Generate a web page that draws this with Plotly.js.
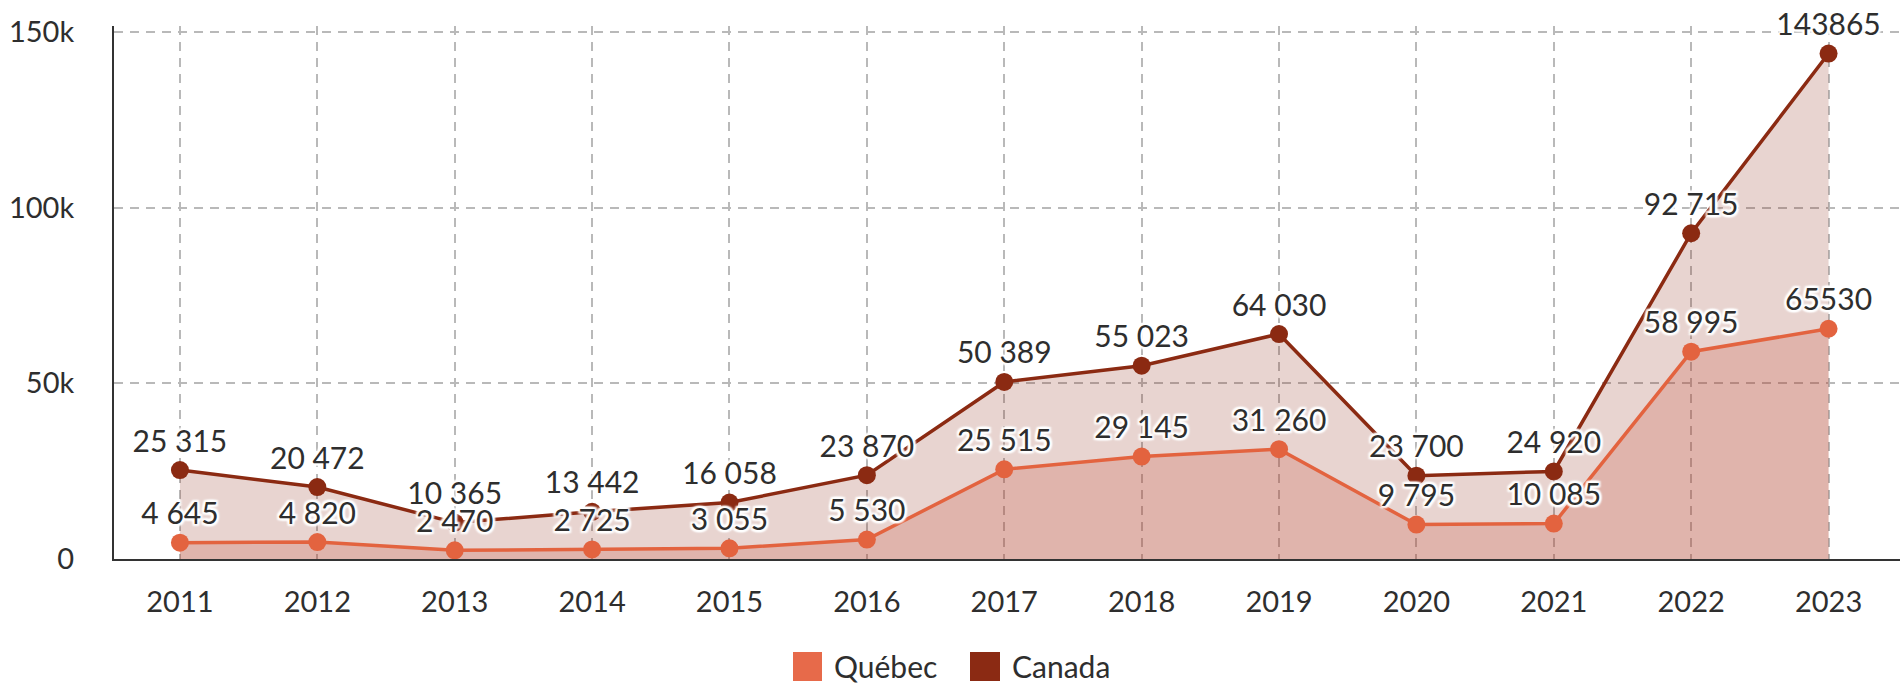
<!DOCTYPE html>
<html>
<head>
<meta charset="utf-8">
<script src="https://cdn.plot.ly/plotly-3.0.1.min.js"></script>
<style>
html,body{margin:0;padding:0;background:#fff;}
#chart{width:1903px;height:684px;}
</style>
</head>
<body>
<div id="chart"></div>
<script>
// ---- data ----
const years = ["2011","2012","2013","2014","2015","2016","2017","2018","2019","2020","2021","2022","2023"];
const quebec = [4645, 4820, 2470, 2725, 3055, 5530, 25515, 29145, 31260, 9795, 10085, 58995, 65530];
const canada = [25315, 20472, 10365, 13442, 16058, 23870, 50389, 55023, 64030, 23700, 24920, 92715, 143865];
const quebecLabels = ["4 645","4 820","2 470","2 725","3 055","5 530","25 515","29 145","31 260","9 795","10 085","58 995","65530"];
const canadaLabels = ["25 315","20 472","10 365","13 442","16 058","23 870","50 389","55 023","64 030","23 700","24 920","92 715","143865"];
const seriesNames = ["Québec", "Canada"];
const yTickVals = [0, 50000, 100000, 150000];
const yTickText = ["0", "50k", "100k", "150k"];

// ---- styles ----
const QC = "#E3633F";
const CA = "#8B2A12";
const FONT = "Lato, 'Open Sans', sans-serif";
const TXT = "#2e2e2e";
const halo = "2px 2px 2px #fff, -2px -2px 2px #fff, 2px -2px 2px #fff, -2px 2px 2px #fff, 0px 2px 2px #fff, 0px -2px 2px #fff, 2px 0px 2px #fff, -2px 0px 2px #fff";

const traces = [
  {
    x: years, y: canada, name: seriesNames[1], type: "scatter", mode: "lines+markers",
    line: {color: CA, width: 3.5}, marker: {color: CA, size: 18},
    fill: "tozeroy", fillcolor: "rgba(139,42,18,0.2)", hoverinfo: "skip", showlegend: false
  },
  {
    x: years, y: quebec, name: seriesNames[0], type: "scatter", mode: "lines+markers",
    line: {color: QC, width: 3.5}, marker: {color: QC, size: 18},
    fill: "tozeroy", fillcolor: "rgba(200,80,60,0.24)", hoverinfo: "skip", showlegend: false
  },
  {
    x: years, y: quebec, text: quebecLabels, type: "scatter", mode: "markers+text",
    marker: {size: 16, opacity: 0}, textposition: "top center",
    textfont: {family: FONT, size: 30, color: TXT, shadow: halo},
    hoverinfo: "skip", showlegend: false, cliponaxis: false
  },
  {
    x: years, y: canada, text: canadaLabels, type: "scatter", mode: "markers+text",
    marker: {size: 16, opacity: 0}, textposition: "top center",
    textfont: {family: FONT, size: 30, color: TXT, shadow: halo},
    hoverinfo: "skip", showlegend: false, cliponaxis: false
  }
];

// legend (drawn with shapes + annotations, paper coords)
const W = 1786, H = 533, L = 114, B = 559;
const px = v => (v - L) / W;
const py = v => (B - v) / H;

const layout = {
  width: 1903, height: 684,
  margin: {l: L, r: 3, t: 26, b: 125, pad: 0},
  paper_bgcolor: "#fff", plot_bgcolor: "#fff",
  font: {family: FONT, size: 30, color: TXT},
  showlegend: false,
  xaxis: {
    type: "category", range: [-0.48, 12.52],
    showline: true, linecolor: "#333", linewidth: 2,
    showgrid: true, gridcolor: "#b9b9b9", gridwidth: 2, griddash: "9px,7px",
    ticks: "outside", ticklen: 16, tickcolor: "rgba(0,0,0,0)",
    tickfont: {family: FONT, size: 29, color: TXT},
    zeroline: false, fixedrange: true
  },
  yaxis: {
    range: [0, 151700],
    tickvals: yTickVals, ticktext: yTickText,
    showline: true, linecolor: "#333", linewidth: 2,
    showgrid: true, gridcolor: "#b9b9b9", gridwidth: 2, griddash: "9px,7px",
    ticks: "outside", ticklen: 32, tickcolor: "rgba(0,0,0,0)",
    tickfont: {family: FONT, size: 29, color: TXT},
    zeroline: false, fixedrange: true
  },
  shapes: [
    {type: "rect", xref: "paper", yref: "paper", x0: px(793), x1: px(822), y0: py(681), y1: py(652), fillcolor: "#E76A4A", line: {width: 0}},
    {type: "rect", xref: "paper", yref: "paper", x0: px(970), x1: px(1000), y0: py(681), y1: py(652), fillcolor: "#8B2A13", line: {width: 0}}
  ],
  annotations: [
    {xref: "paper", yref: "paper", x: px(833), y: py(666), xanchor: "left", yanchor: "middle", borderpad: 0, text: seriesNames[0], showarrow: false, font: {family: FONT, size: 30, color: TXT}},
    {xref: "paper", yref: "paper", x: px(1011), y: py(666), xanchor: "left", yanchor: "middle", borderpad: 0, text: seriesNames[1], showarrow: false, font: {family: FONT, size: 30, color: TXT}}
  ]
};

Plotly.newPlot("chart", traces, layout, {displayModeBar: false, staticPlot: true});
</script>
</body>
</html>
